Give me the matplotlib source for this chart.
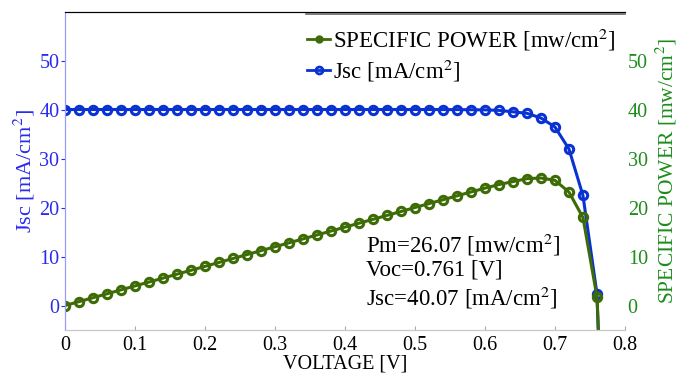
import matplotlib.pyplot as plt
from matplotlib.lines import Line2D

plt.rcParams['font.family'] = ['Liberation Serif', 'DejaVu Serif']
plt.rcParams['mathtext.fontset'] = 'stix'

# voltage steps [V]
voltage = [0.00, 0.02, 0.04, 0.06, 0.08, 0.10, 0.12, 0.14, 0.16, 0.18,
           0.20, 0.22, 0.24, 0.26, 0.28, 0.30, 0.32, 0.34, 0.36, 0.38,
           0.40, 0.42, 0.44, 0.46, 0.48, 0.50, 0.52, 0.54, 0.56, 0.58,
           0.60, 0.62, 0.64, 0.66, 0.68, 0.70, 0.72, 0.74, 0.76, 0.78]

# current density [mA/cm2]
jsc = [40.07, 40.07, 40.07, 40.07, 40.07, 40.07, 40.07, 40.07, 40.07, 40.07,
       40.07, 40.07, 40.07, 40.07, 40.07, 40.07, 40.07, 40.07, 40.07, 40.07,
       40.07, 40.07, 40.07, 40.07, 40.07, 40.07, 40.07, 40.06, 40.05, 40.03,
       40.0, 39.9, 39.6, 39.3, 38.34, 36.5, 32.0, 22.5, 2.4, -80.0]

# specific power [mW/cm2]
power = [0.0, 0.80, 1.60, 2.40, 3.21, 4.01, 4.81, 5.61, 6.41, 7.21,
         8.01, 8.82, 9.62, 10.42, 11.22, 12.02, 12.82, 13.62, 14.43, 15.23,
         16.03, 16.83, 17.63, 18.43, 19.23, 20.04, 20.84, 21.63, 22.43, 23.22,
         24.0, 24.74, 25.34, 25.94, 26.07, 25.6, 23.2, 18.0, 1.8, -62.0]

xticks = [0, 0.1, 0.2, 0.3, 0.4, 0.5, 0.6, 0.7, 0.8]
xtick_labels = ["0", "0.1", "0.2", "0.3", "0.4", "0.5", "0.6", "0.7", "0.8"]
yticks = [0, 10, 20, 30, 40, 50]

blue = "#0a32d2"
green = "#3d6b06"
blue_txt = "#2a2af0"
green_txt = "#1c8c1c"

fig = plt.figure(figsize=(6.81, 3.76), dpi=100)
ax = fig.add_axes([0.0954, 0.1223, 0.8223, 0.8457])
ax2 = ax.twinx()

ax.plot(voltage, jsc, color=blue, lw=2.2, marker="o", ms=6,
        mfc="none", mec=blue, mew=2.2, label="Jsc [mA/cm$^2$]")
ax2.plot(voltage, power, color=green, lw=2.2, marker="o", ms=6,
         mfc="none", mec=green, mew=2.2, label="SPECIFIC POWER [mw/cm$^2$]")

for a in (ax, ax2):
    a.set_xlim(0, 0.8)
    a.set_ylim(-5, 60)
    a.set_yticks(yticks)

ax.set_xticks(xticks)
ax.set_xticklabels(xtick_labels)
ax.tick_params(axis="x", direction="in", length=3, color="#aaaaaa",
               labelsize=14.5, pad=4)
ax.tick_params(axis="y", direction="out", length=3, color=blue_txt,
               labelcolor=blue_txt, labelsize=14.5, pad=1)
ax2.tick_params(axis="y", direction="out", length=0, labelcolor=green_txt,
                labelsize=14.5, pad=2)

for a in (ax, ax2):
    a.spines["left"].set_color("#9a9aff")
    a.spines["bottom"].set_color("#c8c8c8")
    a.spines["top"].set_color("black")
    a.spines["right"].set_visible(False)

ax.set_xlabel("VOLTAGE [V]", fontsize=14.5, labelpad=0)
ax.set_ylabel("Jsc [mA/cm$^2$]", fontsize=16, color=blue_txt, labelpad=2)
ax2.set_ylabel("SPECIFIC POWER [mw/cm$^2$]", fontsize=15.5, color=green_txt,
               labelpad=4)

ax.text(0.43, 12.3, "Pm=26.07 [mw/cm$^2$]", fontsize=16.5, va="center")
ax.text(0.43, 7.2, "Voc=0.761 [V]", fontsize=16.5, va="center")
ax.text(0.43, 1.6, "Jsc=40.07 [mA/cm$^2$]", fontsize=16.5, va="center")

handles = [Line2D([], [], color=green, lw=2, marker="o", ms=5, mfc=green, mec=green),
           Line2D([], [], color=blue, lw=2, marker="o", ms=5, mfc="none", mec=blue, mew=2)]
labels = ["SPECIFIC POWER [mw/cm$^2$]", "Jsc [mA/cm$^2$]"]
leg = ax2.legend(handles, labels, loc="upper right", fontsize=16.5,
                 frameon=False, handlelength=1.0, handletextpad=0.15,
                 borderaxespad=0.1, labelspacing=0.2,
                 bbox_to_anchor=(1.005, 0.99))
ax2.plot([0.43, 1.0], [0.994, 0.994], transform=ax2.transAxes,
         color="#666666", lw=1.2, clip_on=False)

fig.savefig("out.png", dpi=100)
